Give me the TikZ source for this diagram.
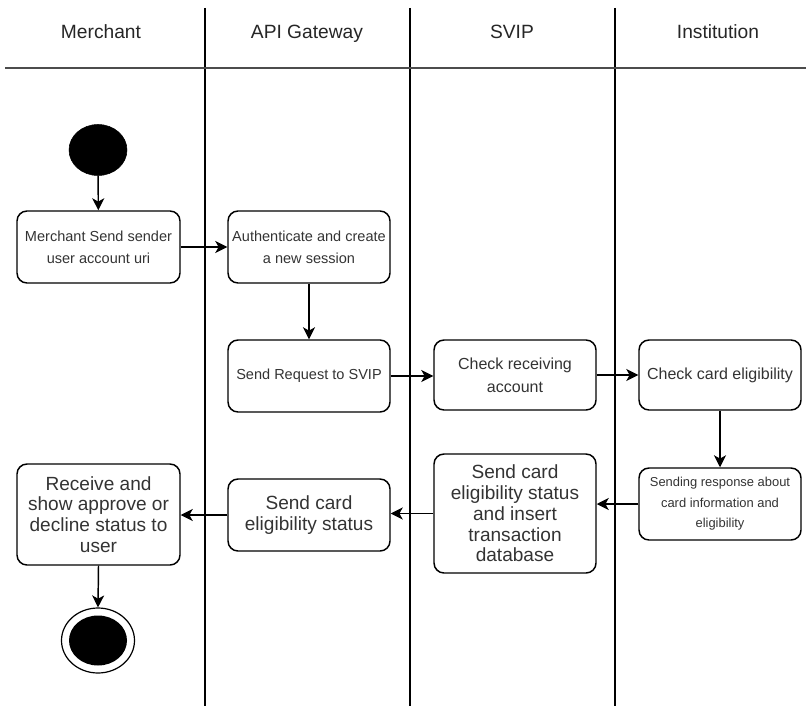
\documentclass[tikz,border=0pt]{standalone}
\usepackage{fontspec}
\setmainfont{Liberation Sans}
\usetikzlibrary{arrows.meta,shapes.geometric}

\begin{document}
\begin{tikzpicture}[x=0.75pt,y=-0.75pt,
  lane/.style={draw=black, line width=0.9pt},
  lanehead/.style={font=\fontsize{14.4pt}{16pt}\selectfont, text=black!85, inner sep=0pt,
    text height=10.5pt, text depth=3pt},
  act/.style={draw=black, line width=1.1pt, rounded corners=7.5pt, align=center,
    text=black!80, inner sep=0pt, minimum width=121.5pt, minimum height=54pt},
  txtS/.style={font=\fontsize{10.9pt}{16.5pt}\selectfont},
  txtM/.style={font=\fontsize{12pt}{17pt}\selectfont},
  txtL/.style={font=\fontsize{14.3pt}{15.6pt}\selectfont},
  txtXS/.style={font=\fontsize{9.7pt}{15.4pt}\selectfont},
  flow/.style={draw=black, line width=1.1pt, -{Stealth[length=9pt,width=9pt,inset=2.5pt]}},
  initial/.style={ellipse, fill=black, draw=black, minimum width=43.5pt, minimum height=38.25pt, inner sep=0pt},
  finalout/.style={ellipse, draw=black, line width=0.9pt, fill=white, minimum width=54.75pt, minimum height=48.75pt, inner sep=0pt},
  finalin/.style={ellipse, fill=black, minimum width=43.5pt, minimum height=37.5pt, inner sep=0pt}
]
\useasboundingbox (0,0) rectangle (806,706);

% swimlanes
\draw[lane] (205,8) -- (205,706);
\draw[lane] (410,8) -- (410,706);
\draw[lane] (615,8) -- (615,706);
\draw[draw=black!70, line width=1.4pt] (5,68) -- (806,68);

\node[lanehead] (hM) at (101,34) {Merchant};
\node[lanehead] (hA) at (307,34) {API Gateway};
\node[lanehead] (hS) at (512,34) {SVIP};
\node[lanehead] (hI) at (718,34) {Institution};

% activities
\node[initial] (start) at (98,150) {};
\node[act, txtS, minimum width=122.25pt] (merch) at (98.5,247) {Merchant Send sender\\user account uri};
\node[act, txtS] (auth) at (309,247) {Authenticate and create\\a new session};
\node[act, txtS] (req) at (309,376) {Send Request to SVIP};
\node[act, txtM, minimum height=52.5pt] (recv) at (515,375) {Check receiving\\account};
\node[act, txtM, minimum height=52.5pt] (elig) at (720,375) {Check card eligibility};
\node[act, txtXS] (resp) at (720,504) {Sending response about\\card information and\\eligibility};
\node[act, txtL, minimum height=89.25pt] (insert) at (515,513.5) {Send card\\eligibility status\\and insert\\transaction\\database};
\node[act, txtL] (status) at (309,515) {Send card\\eligibility status};
\node[act, txtL, minimum width=122.25pt, minimum height=75.75pt] (show) at (98.5,514.5) {Receive and\\show approve or\\decline status to\\user};
\node[finalout] (endo) at (98,640.5) {};
\node[finalin] (endi) at (98,640.5) {};

% control flow
\draw[flow] (start) -- (merch);
\draw[flow] (merch.east) -- (auth.west);
\draw[flow] (auth.south) -- (req.north);
\draw[flow] (req.east) -- (req.east -| recv.west);
\draw[flow] (recv.east) -- (elig.west);
\draw[flow] (elig.south) -- (resp.north);
\draw[flow] (resp.west) -- (resp.west -| insert.east);
\draw[flow] (insert.west) -- (insert.west -| status.east);
\draw[flow] (status.west) -- (status.west -| show.east);
\draw[flow] (show.south) -- (endo.north);
\end{tikzpicture}
\end{document}
